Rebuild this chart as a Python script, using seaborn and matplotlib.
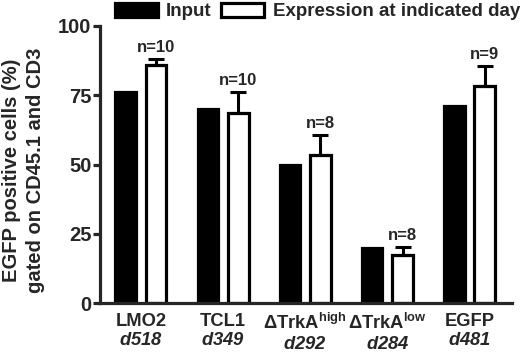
import pandas as pd
import matplotlib
matplotlib.use('Agg')
import matplotlib.pyplot as plt
import seaborn as sns

groups = ['LMO2\n$\\mathsf{d518}$', 'TCL1\n$\\mathsf{d349}$',
          '$\\Delta\\mathrm{TrkA}^{\\mathrm{high}}$\n$\\mathsf{d292}$',
          '$\\Delta\\mathrm{TrkA}^{\\mathrm{low}}$\n$\\mathsf{d284}$',
          'EGFP\n$\\mathsf{d481}$']
input_vals = [76, 70, 50, 20, 71]
expr_vals = [86, 68.7, 53.5, 17.3, 78.2]
expr_err = [2, 7.5, 7, 2.8, 7.2]
n_labels = ['n=10', 'n=10', 'n=8', 'n=8', 'n=9']
series = ['Input', 'Expression at indicated day']

sns.set_style('ticks')
plt.rcParams['font.family'] = ['Liberation Sans', 'DejaVu Sans']
plt.rcParams['font.weight'] = 'bold'
plt.rcParams['mathtext.fontset'] = 'custom'
plt.rcParams['mathtext.rm'] = 'Liberation Sans:bold'
plt.rcParams['mathtext.it'] = 'Liberation Sans:italic:bold'
plt.rcParams['mathtext.sf'] = 'Liberation Sans:italic:bold'
plt.rcParams['mathtext.bf'] = 'Liberation Sans:bold'

df = pd.DataFrame({
    'group': groups * 2,
    'series': [series[0]] * 5 + [series[1]] * 5,
    'value': input_vals + expr_vals,
})

fig = plt.figure(figsize=(5.2, 3.55), dpi=100)
ax = fig.add_axes([0.192, 0.146, 0.793, 0.781])

sns.barplot(data=df, x='group', y='value', hue='series', order=groups,
            hue_order=series, palette={series[0]: 'black', series[1]: 'white'},
            edgecolor='black', linewidth=2.3, width=0.74, gap=0.32,
            errorbar=None, ax=ax)

# white bars are the last five patches
white = [p for p in ax.patches if p.get_facecolor()[0] > 0.5 and p.get_height() > 0][:5]
xs = [p.get_x() + p.get_width() / 2 for p in white]
ax.errorbar(xs, expr_vals, yerr=[[0] * 5, expr_err], fmt='none', ecolor='black',
            elinewidth=2.2, capsize=6, capthick=2.2)
for x, v, e, t in zip(xs, expr_vals, expr_err, n_labels):
    ax.text(x, v + e + 1.5, t, ha='center', va='bottom', fontsize=12, fontweight='bold')

ax.set_ylim(0, 100)
ax.set_xlim(-0.5, 4.52)
ax.set_yticks([0, 25, 50, 75, 100])
ax.set_xlabel('')
ax.set_ylabel('EGFP positive cells (%)\ngated on CD45.1 and CD3', fontsize=14.5,
              fontweight='bold', linespacing=1.35)
ax.yaxis.set_label_coords(-0.132, 0.48)
ax.tick_params(axis='y', width=2.3, length=5, labelsize=14.5, pad=1)
ax.tick_params(axis='x', length=0, labelsize=13.2, pad=7)
for lab in ax.get_yticklabels() + ax.get_xticklabels():
    lab.set_fontweight('bold')
sns.despine(ax=ax)
for s in ['left', 'bottom']:
    ax.spines[s].set_linewidth(2.3)

sns.move_legend(ax, 'upper left', bbox_to_anchor=(0.215, 1.0), bbox_transform=fig.transFigure,
                ncol=2, frameon=False, title=None, fontsize=13.5, handlelength=2.3,
                handleheight=0.75, columnspacing=0.5, handletextpad=0.45, borderaxespad=0.1,
                borderpad=0.05)

fig.savefig('out.png', dpi=100)
